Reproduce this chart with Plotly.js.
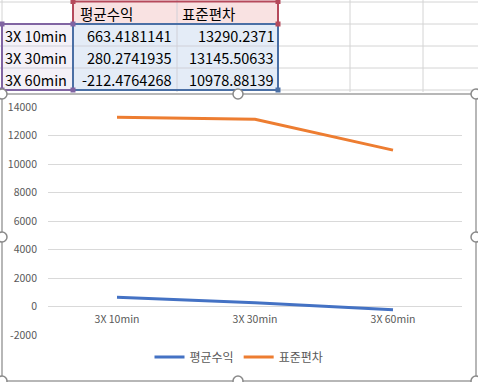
<!DOCTYPE html>
<html>
<head>
<meta charset="utf-8">
<script src="https://cdn.plot.ly/plotly-3.0.1.min.js"></script>
<style>html,body{margin:0;padding:0;background:#fff;}#chart{width:478px;height:382px;}</style>
</head>
<body>
<div id="chart"></div>
<script>
// ---- data ----
const categories = ["3X 10min", "3X 30min", "3X 60min"];
const seriesNames = ["평균수익", "표준편차"];
const meanReturn = [663.4181141, 280.2741935, -212.4764268];
const stdDev = [13290.2371, 13145.50633, 10978.88139];
const meanReturnText = ["663.4181141", "280.2741935", "-212.4764268"];
const stdDevText = ["13290.2371", "13145.50633", "10978.88139"];
const yTicks = [-2000, 0, 2000, 4000, 6000, 8000, 10000, 12000, 14000];

// ---- helpers (pixel -> paper) ----
const W = 478, H = 382;
const px = x => x / W;
const py = y => 1 - y / H;

const shapes = [];
const annotations = [];
function rect(x0, y0, x1, y1, fill, line, lw, layer) {
  shapes.push({type: 'rect', xref: 'paper', yref: 'paper', x0: px(x0), x1: px(x1), y0: py(y1), y1: py(y0),
    fillcolor: fill || 'rgba(0,0,0,0)', line: {color: line || 'rgba(0,0,0,0)', width: lw || 0}, layer: layer || 'below'});
}
function line(x0, y0, x1, y1, color, lw, layer) {
  shapes.push({type: 'line', xref: 'paper', yref: 'paper', x0: px(x0), x1: px(x1), y0: py(y0), y1: py(y1),
    line: {color: color, width: lw}, layer: layer || 'below'});
}
function circle(cx, cy, r) {
  shapes.push({type: 'circle', xref: 'paper', yref: 'paper', x0: px(cx - r), x1: px(cx + r), y0: py(cy + r), y1: py(cy - r),
    fillcolor: '#ffffff', line: {color: '#8a8a8a', width: 1.5}, layer: 'above'});
}
function text(t, x, y, anchor) {
  annotations.push({text: t, xref: 'paper', yref: 'paper', x: px(x), y: py(y), xanchor: anchor, yanchor: 'middle',
    showarrow: false, font: {family: 'Noto Sans CJK KR, Noto Sans, sans-serif', size: 14.5, color: '#000000'}});
}

// spreadsheet grid
const gridC = '#d4d4d4';
[2, 24, 46, 68, 90].forEach(y => line(0, y, W, y, gridC, 1));
[2, 73, 177, 278, 350, 423].forEach(x => line(x, 0, x, 92, gridC, 1));

// selection fills
rect(2, 24, 73, 90, '#f4f1f8');
rect(73, 2, 278, 24, '#f9e2e2');
rect(73, 24, 278, 90, '#e4ecf7');
line(177, 2, 177, 90, '#d0d0d8', 1);
[46, 68].forEach(y => line(2, y, 278, y, '#d0d0d8', 1));

// selection borders
rect(73, 1.5, 278, 24, null, '#b5495b', 2);
rect(2, 24, 73, 90, null, '#8064a2', 2);
rect(73, 24, 278, 90, null, '#4a6fa5', 2);
// corner handles
function sq(x, y, c) { rect(x - 2.5, y - 2.5, x + 2.5, y + 2.5, c, c, 0); }
sq(73, 1.5, '#b5495b'); sq(278, 1.5, '#b5495b'); sq(278, 24, '#b5495b');
sq(2, 24, '#8064a2'); sq(73, 24, '#8064a2'); sq(2, 90, '#8064a2'); sq(73, 90, '#8064a2');
sq(278, 90, '#4a6fa5');

// table text
text(seriesNames[0], 78, 13, 'left');
text(seriesNames[1], 180, 13, 'left');
categories.forEach((c, i) => {
  const y = 35 + i * 22;
  text(c, 3, y, 'left');
  text(meanReturnText[i], 174, y, 'right');
  text(stdDevText[i], 276, y, 'right');
});

// chart frame
rect(2, 94, 476, 381, '#ffffff', '#a0a0a0', 1.5);
[[2, 94], [238, 94], [476, 94], [2, 237], [476, 237], [2, 381], [238, 381], [476, 381]].forEach(p => circle(p[0], p[1], 5));

const traces = [
  {x: categories, y: meanReturn, name: seriesNames[0], type: 'scatter', mode: 'lines',
   line: {color: '#4472c4', width: 3}},
  {x: categories, y: stdDev, name: seriesNames[1], type: 'scatter', mode: 'lines',
   line: {color: '#ed7d31', width: 3}}
];

const layout = {
  width: W, height: H,
  margin: {l: 0, r: 0, t: 0, b: 0},
  paper_bgcolor: '#ffffff',
  plot_bgcolor: 'rgba(0,0,0,0)',
  font: {family: 'Noto Sans CJK KR, Noto Sans, sans-serif', color: '#595959'},
  xaxis: {
    type: 'category', domain: [px(48), px(462)], range: [-0.5, 2.5],
    anchor: 'free', position: py(307),
    showgrid: false, zeroline: false, showline: false, ticks: '',
    tickfont: {size: 10.5, color: '#595959'}, ticklabelstandoff: 4, fixedrange: true
  },
  yaxis: {
    domain: [py(335.3), py(107)], range: [-2000, 14000],
    tickvals: yTicks, ticktext: yTicks.map(String),
    showgrid: true, gridcolor: '#d9d9d9', gridwidth: 1, zeroline: false, showline: false, ticks: '',
    tickfont: {size: 10.5, color: '#595959'}, ticklabelstandoff: 10, fixedrange: true
  },
  showlegend: true,
  legend: {orientation: 'h', x: 0.5, xanchor: 'center', y: py(357), yanchor: 'middle',
    font: {size: 12, color: '#595959'}, itemwidth: 30, bgcolor: 'rgba(0,0,0,0)'},
  shapes: shapes,
  annotations: annotations
};

Plotly.newPlot('chart', traces, layout, {displayModeBar: false, staticPlot: true});
</script>
</body>
</html>
